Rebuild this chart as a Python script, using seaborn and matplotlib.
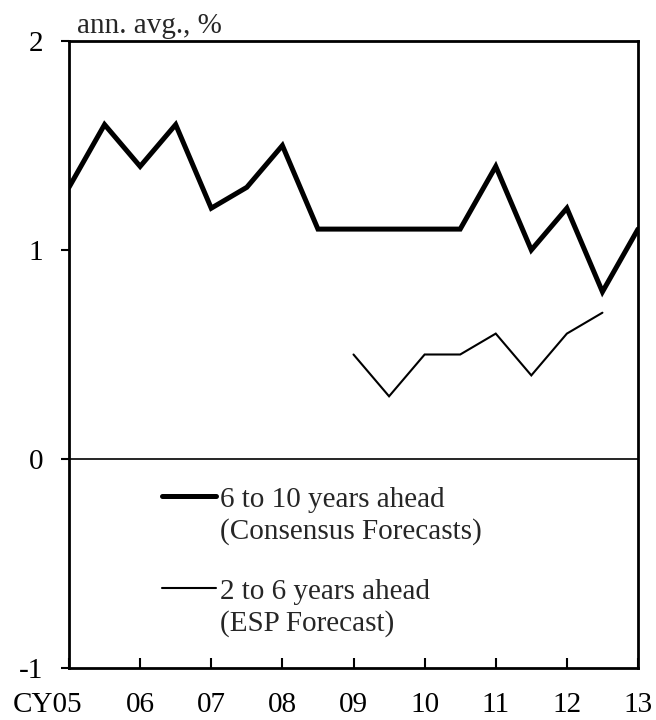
import numpy as np
import pandas as pd
import matplotlib
matplotlib.use("Agg")
import matplotlib.pyplot as plt
import matplotlib.transforms as mtransforms
import seaborn as sns

# Half-yearly survey points (calendar year)
years_long = [2005.0, 2005.5, 2006.0, 2006.5, 2007.0, 2007.5, 2008.0, 2008.5,
              2009.0, 2009.5, 2010.0, 2010.5, 2011.0, 2011.5, 2012.0, 2012.5, 2013.0]
consensus_6to10 = [1.3, 1.6, 1.4, 1.6, 1.2, 1.3, 1.5, 1.1,
                   1.1, 1.1, 1.1, 1.1, 1.4, 1.0, 1.2, 0.8, 1.1]

years_short = [2009.0, 2009.5, 2010.0, 2010.5, 2011.0, 2011.5, 2012.0, 2012.5]
esp_2to6 = [0.5, 0.3, 0.5, 0.5, 0.6, 0.4, 0.6, 0.7]

tick_years = [2005, 2006, 2007, 2008, 2009, 2010, 2011, 2012, 2013]
tick_labels = ["CY05", "06", "07", "08", "09", "10", "11", "12", "13"]
y_ticks = [-1, 0, 1, 2]

legend_titles = ["6 to 10 years ahead", "2 to 6 years ahead"]
legend_sources = ["(Consensus Forecasts)", "(ESP Forecast)"]

FS = 21

sns.set_theme(style="ticks")
plt.rcParams["font.family"] = ["Liberation Serif", "DejaVu Serif"]
plt.rcParams["font.size"] = FS

fig = plt.figure(figsize=(6.56, 7.2), dpi=100)
ax = fig.add_axes([69 / 656, 52 / 720, 569 / 656, 627 / 720])

df_long = pd.DataFrame({"year": years_long, "value": consensus_6to10})
df_short = pd.DataFrame({"year": years_short, "value": esp_2to6})

sns.lineplot(data=df_long, x="year", y="value", ax=ax, color="black",
             linewidth=3.6, label=legend_titles[0], solid_joinstyle="miter")
sns.lineplot(data=df_short, x="year", y="value", ax=ax, color="black",
             linewidth=1.5, label=legend_titles[1], solid_joinstyle="miter")

ax.axhline(0, color="black", linewidth=1.2, zorder=1)

ax.set_xlim(2005, 2013)
ax.set_ylim(-1, 2)
ax.set_xlabel("")
ax.set_ylabel("")

ax.set_yticks(y_ticks)
ax.set_yticklabels([str(v) for v in y_ticks])
ax.set_xticks(tick_years)
ax.set_xticklabels(tick_labels)

ax.tick_params(axis="y", direction="out", length=6, width=1.5, pad=12.5,
               labelsize=FS, colors="black")
ax.tick_params(axis="x", direction="in", length=7, width=1.5, pad=17,
               labelsize=FS, colors="black")

# first label carries the "CY" prefix and sits to the left of its tick
first = ax.get_xticklabels()[0]
first.set_horizontalalignment("right")
first.set_transform(first.get_transform() +
                    mtransforms.ScaledTranslation(13 / 100, 0, fig.dpi_scale_trans))

for side in ["left", "right", "top", "bottom"]:
    ax.spines[side].set_visible(True)
    ax.spines[side].set_linewidth(2)
    ax.spines[side].set_color("black")

ax.text(0.014, 1.003, "ann. avg., %", transform=ax.transAxes,
        ha="left", va="bottom", fontsize=FS)

leg = ax.legend(loc="upper left", bbox_to_anchor=(0.163, 0.29), frameon=False,
                handlelength=1.85, handletextpad=0.15, labelspacing=2.25,
                fontsize=FS, borderaxespad=0, borderpad=0)

# second line of each legend entry, set just below its title
for txt, src in zip(leg.get_texts(), legend_sources):
    ax.annotate(src, xy=(0, 0), xycoords=txt, xytext=(0, -19),
                textcoords="offset points", ha="left", va="baseline",
                fontsize=FS, zorder=10)

fig.canvas.draw()
fig.savefig("out.png", dpi=100, facecolor="white")
